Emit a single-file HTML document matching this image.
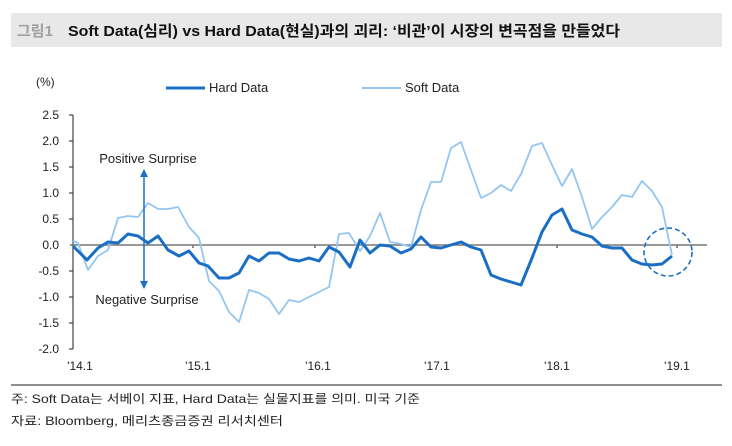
<!DOCTYPE html>
<html><head><meta charset="utf-8"><style>
body{margin:0;background:#fff;width:732px;height:441px;overflow:hidden;font-family:"Liberation Sans","Noto Sans CJK KR",sans-serif}
</style></head><body>
<svg width="732" height="441" viewBox="0 0 732 441" xmlns="http://www.w3.org/2000/svg" font-family="Liberation Sans, Noto Sans CJK KR, sans-serif">
<rect x="11" y="13" width="711" height="34" fill="#e8e8e8"/>
<text x="17" y="36" font-size="15" font-weight="bold" fill="#a0a0a0">그림1</text>
<text x="68" y="36" font-size="15" font-weight="bold" fill="#111" textLength="552" lengthAdjust="spacingAndGlyphs">Soft Data(심리) vs Hard Data(현실)과의 괴리:  ‘비관’이 시장의 변곡점을 만들었다</text>
<text x="36" y="86" font-size="12" fill="#222">(%)</text>
<line x1="166" y1="88" x2="205" y2="88" stroke="#1a6fc4" stroke-width="3"/>
<text x="209" y="92" font-size="13" fill="#222">Hard Data</text>
<line x1="362" y1="88" x2="401" y2="88" stroke="#93c6f2" stroke-width="2"/>
<text x="405" y="92" font-size="13" fill="#222">Soft Data</text>
<g font-size="12" fill="#222" text-anchor="end">
<text x="59" y="119">2.5</text><text x="59" y="145">2.0</text><text x="59" y="171">1.5</text><text x="59" y="197">1.0</text><text x="59" y="223">0.5</text><text x="59" y="249">0.0</text><text x="59" y="275">-0.5</text><text x="59" y="301">-1.0</text><text x="59" y="327">-1.5</text><text x="59" y="353">-2.0</text>
</g>
<g stroke="#444" stroke-width="1.2">
<line x1="73" y1="115" x2="73" y2="349"/>
<line x1="69" y1="115" x2="73" y2="115"/><line x1="69" y1="141" x2="73" y2="141"/><line x1="69" y1="167" x2="73" y2="167"/><line x1="69" y1="193" x2="73" y2="193"/><line x1="69" y1="219" x2="73" y2="219"/><line x1="69" y1="271" x2="73" y2="271"/><line x1="69" y1="297" x2="73" y2="297"/><line x1="69" y1="323" x2="73" y2="323"/><line x1="69" y1="349" x2="73" y2="349"/>
<line x1="193" y1="245" x2="193" y2="248"/><line x1="315" y1="245" x2="315" y2="248"/><line x1="435" y1="245" x2="435" y2="248"/><line x1="557" y1="245" x2="557" y2="248"/><line x1="677" y1="245" x2="677" y2="248"/>
</g>
<line x1="70" y1="245" x2="707" y2="245" stroke="#777" stroke-width="1.5"/>
<g font-size="12" fill="#222" text-anchor="middle">
<text x="80" y="370">'14.1</text><text x="198" y="370">'15.1</text><text x="318" y="370">'16.1</text><text x="437" y="370">'17.1</text><text x="557" y="370">'18.1</text><text x="677" y="370">'19.1</text>
</g>
<polyline fill="none" stroke="#93c6f2" stroke-width="1.8" stroke-linejoin="round" points="73,241 78,243 88,270 98,256 108,250 118,218 128,216 138,217 148,203 158,209 168,209 178,207 189,227 199,238 209,281 219,291 229,312 239,322 249,290 259,293 269,299 279,314 289,300 299,302 309,297 319,292 329,287 339,234 349,233 360,251 370,236 380,213 390,242 401,244 411,247 421,210 431,182 441,182 451,148 461,142 471,170 481,198 491,193 501,185 511,191 521,174 532,146 542,143 552,165 562,186 572,169 582,197 592,229 602,217 612,207 622,195 632,197 642,181 652,191 662,207 672,255"/>
<polyline fill="none" stroke="#1a6fc4" stroke-width="3" stroke-linejoin="round" points="73,246 87,260 98,248 108,242 118,243 128,234 138,236 148,243 158,236 168,250 179,256 189,251 199,263 208,266 219,278 229,278 239,273 249,256 259,261 269,253 279,253 289,259 299,261 309,258 319,261 329,247 339,252 350,267 360,240 370,253 380,245 390,246 401,253 411,249 421,237 431,247 441,248 451,245 461,242 471,247 481,250 491,275 501,279 511,282 521,285 532,258 542,232 552,215 562,209 572,230 582,234 592,237 602,246 612,248 622,248 632,260 642,264 652,265 662,264 672,256"/>
<circle cx="668" cy="252" r="24" fill="none" stroke="#1a6fc4" stroke-width="1.6" stroke-dasharray="5,3"/>
<line x1="144" y1="175" x2="144" y2="282" stroke="#1a6fc4" stroke-width="1.5"/>
<polygon points="144,169 140,177 148,177" fill="#1a6fc4"/>
<polygon points="144,289 140,281 148,281" fill="#1a6fc4"/>
<text x="148" y="163" font-size="13" fill="#222" text-anchor="middle">Positive Surprise</text>
<text x="147" y="304" font-size="13" fill="#222" text-anchor="middle">Negative Surprise</text>
<line x1="11" y1="385" x2="722" y2="385" stroke="#222" stroke-width="1"/>
<text x="11" y="403" font-size="12" fill="#222" textLength="409" lengthAdjust="spacingAndGlyphs">주: Soft Data는 서베이 지표, Hard Data는 실물지표를 의미. 미국 기준</text>
<text x="11" y="425" font-size="12" fill="#222" textLength="272" lengthAdjust="spacingAndGlyphs">자료: Bloomberg, 메리츠종금증권 리서치센터</text>
</svg>
</body></html>
